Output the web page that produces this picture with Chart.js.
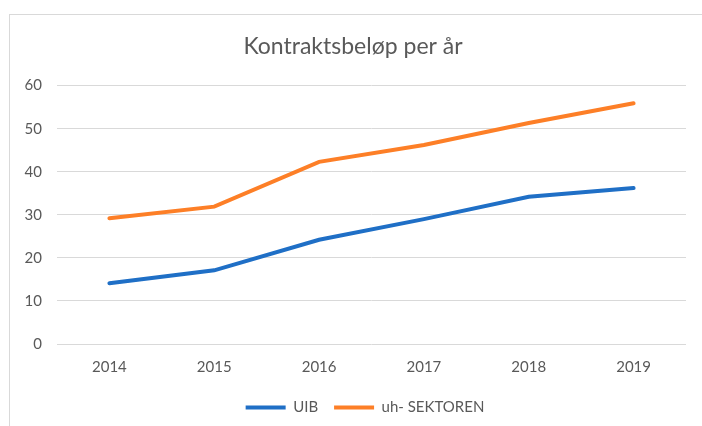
<!DOCTYPE html>
<html>
<head>
<meta charset="utf-8">
<script src="https://cdn.jsdelivr.net/npm/chart.js@4/dist/chart.umd.min.js"></script>
<style>
  html, body { margin: 0; padding: 0; background: #fff; overflow: hidden; }
  #frame { position: absolute; left: 9px; top: 14px; width: 720px; height: 440px; border: 1px solid #d9d9d9; }
  #wrap { position: absolute; left: 0; top: 0; width: 702px; height: 426px; }
</style>
</head>
<body>
<div id="frame"></div>
<div id="wrap"><canvas id="kontrakt"></canvas></div>
<script>
const years = ['2014', '2015', '2016', '2017', '2018', '2019'];
const uib = [14.1, 17.1, 24.2, 29.0, 34.2, 36.2];
const uhSektoren = [29.2, 31.9, 42.3, 46.2, 51.3, 55.9];
const seriesNames = ['UIB', 'uh- SEKTOREN'];
const seriesColors = ['#1f6fc6', '#fd7f27'];

const fontFamily = "Lato, 'Open Sans', sans-serif";
const grey = '#595959';

// legend sits a bit right of centre in the original
const shiftLegend = {
    id: 'shiftLegend',
    afterLayout(chart) {
        chart.legend.left += 12;
        chart.legend.right += 12;
    }
};

const ctx = document.getElementById('kontrakt').getContext('2d');

window.myChart = new Chart(ctx, {
    type: 'line',
    data: {
        labels: years,
        datasets: [
            {
                label: seriesNames[0],
                data: uib,
                borderColor: seriesColors[0],
                backgroundColor: seriesColors[0],
                borderWidth: 4,
                borderCapStyle: 'round',
                pointRadius: 0,
                pointStyle: 'line',
                tension: 0
            },
            {
                label: seriesNames[1],
                data: uhSektoren,
                borderColor: seriesColors[1],
                backgroundColor: seriesColors[1],
                borderWidth: 4,
                borderCapStyle: 'round',
                pointRadius: 0,
                pointStyle: 'line',
                tension: 0
            }
        ]
    },
    plugins: [shiftLegend],
    options: {
        responsive: true,
        maintainAspectRatio: false,
        animation: false,
        layout: { padding: { left: 20, right: 16, top: 0, bottom: 1 } },
        plugins: {
            title: {
                display: true,
                text: 'Kontraktsbeløp per år',
                color: grey,
                font: { family: fontFamily, size: 23, weight: 'normal' },
                padding: { top: 33, bottom: 25 }
            },
            legend: {
                position: 'bottom',
                labels: {
                    usePointStyle: true,
                    pointStyleWidth: 40,
                    color: grey,
                    font: { family: fontFamily, size: 15 },
                    padding: 16
                }
            },
            tooltip: { enabled: false }
        },
        scales: {
            x: {
                offset: true,
                grid: { display: false },
                border: { display: false },
                ticks: { color: grey, font: { family: fontFamily, size: 15 }, padding: 6 },
                afterFit: (scale) => { scale.height += 2; }
            },
            y: {
                min: 0,
                max: 60,
                grid: { color: '#d9d9d9', lineWidth: 1, drawTicks: false },
                border: { display: false },
                ticks: { stepSize: 10, color: grey, font: { family: fontFamily, size: 15 }, padding: 15 },
                afterFit: (scale) => { scale.width = 37; }
            }
        }
    }
});
</script>
</body>
</html>
